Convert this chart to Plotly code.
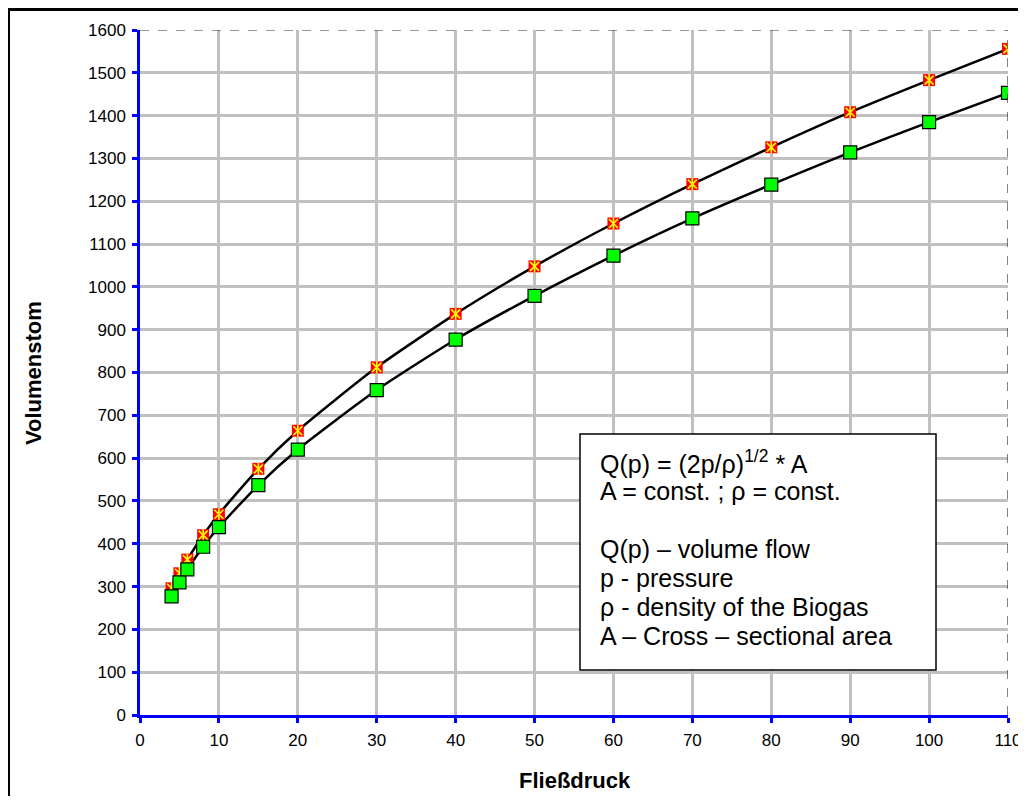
import plotly.graph_objects as go

# Data
pressure = [4, 5, 6, 8, 10, 15, 20, 30, 40, 50, 60, 70, 80, 90, 100, 110]
flow_upper = [296, 331, 363, 420, 469, 575, 664, 812, 937, 1048, 1148, 1240, 1326, 1408, 1483, 1556]
flow_lower = [277, 310, 340, 393, 439, 537, 620, 759, 877, 979, 1073, 1160, 1239, 1314, 1385, 1453]

x_ticks = list(range(0, 111, 10))
y_ticks = list(range(0, 1601, 100))

box_lines = [
    "Q(p) = (2p/\u03c1)<sup>1/2</sup> * A",
    "A = const. ; \u03c1 = const.",
    "",
    "Q(p) \u2013 volume flow",
    "p - pressure",
    "\u03c1 - density of the Biogas",
    "A \u2013 Cross \u2013 sectional area",
]

FONT = "Liberation Sans, Arial, sans-serif"

fig = go.Figure()

# lines
for ys in (flow_upper, flow_lower):
    fig.add_trace(go.Scatter(x=pressure, y=ys, mode="lines",
                             line=dict(color="black", width=2.5, shape="spline", smoothing=0.6),
                             hoverinfo="skip", showlegend=False))

# upper series markers: red square with yellow star (x plus vertical bar)
fig.add_trace(go.Scatter(x=pressure, y=flow_upper, mode="markers",
                         marker=dict(symbol="square", size=12, color="#ff0000",
                                     line=dict(width=0)),
                         showlegend=False))
for sym in ("x-thin-open", "line-ns-open"):
    fig.add_trace(go.Scatter(x=pressure, y=flow_upper, mode="markers",
                             marker=dict(symbol=sym, size=9, color="#ffff00",
                                         line=dict(color="#ffff00", width=1.6)),
                             showlegend=False, hoverinfo="skip"))

# lower series markers: green squares
fig.add_trace(go.Scatter(x=pressure, y=flow_lower, mode="markers",
                         marker=dict(symbol="square", size=13, color="#00ff00",
                                     line=dict(color="black", width=1.2)),
                         showlegend=False))

# page has an 8px body margin -> work in screen coords minus 8
OFF = 8
W, H = 1026 - 2 * OFF, 804 - 2 * OFF
X0, X1, Y0, Y1 = 140 - OFF, 1008 - OFF, 30 - OFF, 715 - OFF  # plot area in figure px
L, R, T, B = X0, W - X1, Y0, H - Y1
pw, ph = X1 - X0, Y1 - Y0


def px(xs):
    return (xs - OFF - X0) / pw


def py(ys):
    return (Y1 - (ys - OFF)) / ph


shapes = [
    # outer frame
    dict(type="rect", xref="paper", yref="paper", x0=px(8.5), x1=px(1050), y0=py(830), y1=py(9.5),
         line=dict(color="black", width=3), layer="below"),
    # dashed top and right borders of plot area
    dict(type="line", xref="x", yref="y", x0=0, x1=110, y0=1600, y1=1600,
         line=dict(color="#333333", width=1.2, dash="dash"), layer="above"),
    dict(type="line", xref="x", yref="y", x0=110, x1=110, y0=0, y1=1600,
         line=dict(color="#333333", width=1.2, dash="dash"), layer="above"),
    # text box
    dict(type="rect", xref="paper", yref="paper", x0=px(580), x1=px(936), y0=py(670), y1=py(434),
         line=dict(color="black", width=1.5), fillcolor="white", layer="above"),
]

annotations = []
baselines = [472, 501, 530, 559, 588, 617, 646]
for line, base in zip(box_lines, baselines):
    if not line:
        continue
    annotations.append(dict(xref="paper", yref="paper", x=px(598), y=py(base - 10),
                            xanchor="left", yanchor="middle", text=line, showarrow=False,
                            align="left", font=dict(family=FONT, size=25, color="black")))

# axis titles
annotations.append(dict(xref="paper", yref="paper", x=px(575), y=py(780), xanchor="center",
                        yanchor="middle", text="<b>Flie\u00dfdruck</b>", showarrow=False,
                        font=dict(family=FONT, size=22, color="black")))
annotations.append(dict(xref="paper", yref="paper", x=px(33), y=py(373), xanchor="center",
                        yanchor="middle", text="<b>Volumenstom</b>", showarrow=False, textangle=-90,
                        font=dict(family=FONT, size=22, color="black")))

axis_common = dict(
    showgrid=True, gridcolor="#c0c0c0", gridwidth=3,
    showline=True, linecolor="#0000ff", linewidth=2.5,
    ticks="outside", tickcolor="#0000ff", tickwidth=2.5, ticklen=5,
    zeroline=False, tickfont=dict(family=FONT, size=17, color="black"),
    ticklabelstandoff=3, ticklabeloverflow="allow", automargin=False,
)

fig.update_layout(
    width=W, height=H,
    margin=dict(l=L, r=R, t=T, b=B),
    paper_bgcolor="white", plot_bgcolor="white",
    shapes=shapes, annotations=annotations,
    xaxis=dict(range=[0, 110], tickvals=x_ticks, **axis_common),
    yaxis=dict(range=[0, 1600], tickvals=y_ticks, **axis_common),
)

fig.write_html("out.html")
